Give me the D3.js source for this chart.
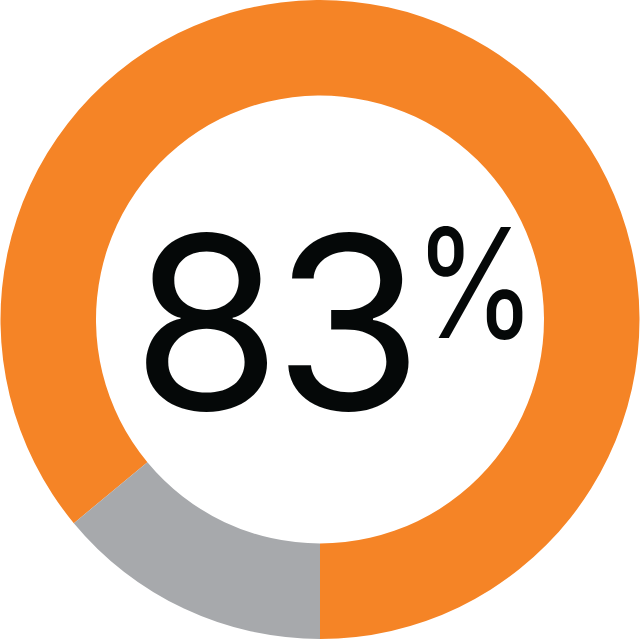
<!DOCTYPE html>
<html>
<head>
<meta charset="utf-8">
<script src="https://cdn.jsdelivr.net/npm/d3@7"></script>
<style>
  html, body { margin: 0; padding: 0; background: #fff; }
</style>
</head>
<body>
<div id="chart"></div>
<script>
// share of the ring as drawn (label reads 83%)
var segments = ["yes", "no"];
var shares = [86, 14];
var colors = ["#F58426", "#A7A9AC"];
var label = "83";
var labelUnit = "%";

var width = 640, height = 639;
var cx = 320, cy = 319.5;
var outer = 319.5, inner = 224;

var svg = d3.select("#chart")
    .append("svg")
    .attr("width", width)
    .attr("height", height);

var g = svg.append("g")
    .attr("transform", "translate(" + cx + "," + cy + ")");

var color = d3.scaleOrdinal().domain(segments).range(colors);

// orange starts at 6 o'clock and runs anticlockwise, gray closes the ring
var pie = d3.pie()
    .sort(null)
    .startAngle(Math.PI)
    .endAngle(-Math.PI)
    .value(function (d, i) { return shares[i]; });

var arc = d3.arc().innerRadius(inner).outerRadius(outer);

g.selectAll("path")
    .data(pie(segments))
    .enter()
    .append("path")
    .attr("d", arc)
    .attr("fill", function (d) { return color(d.data); });

svg.append("text")
    .attr("x", 415)
    .attr("y", 410)
    .attr("text-anchor", "end")
    .attr("font-family", "Inter, 'Noto Sans', sans-serif")
    .attr("font-size", 242)
    .attr("letter-spacing", -8)
    .attr("fill", "#050808")
    .text(label);

// the percent sign is narrower in the original, squeeze it a bit
svg.append("text")
    .attr("transform", "translate(414,338) scale(0.82,1)")
    .attr("font-family", "Inter, 'Noto Sans', sans-serif")
    .attr("font-size", 152)
    .attr("fill", "#050808")
    .text(labelUnit);
</script>
</body>
</html>
